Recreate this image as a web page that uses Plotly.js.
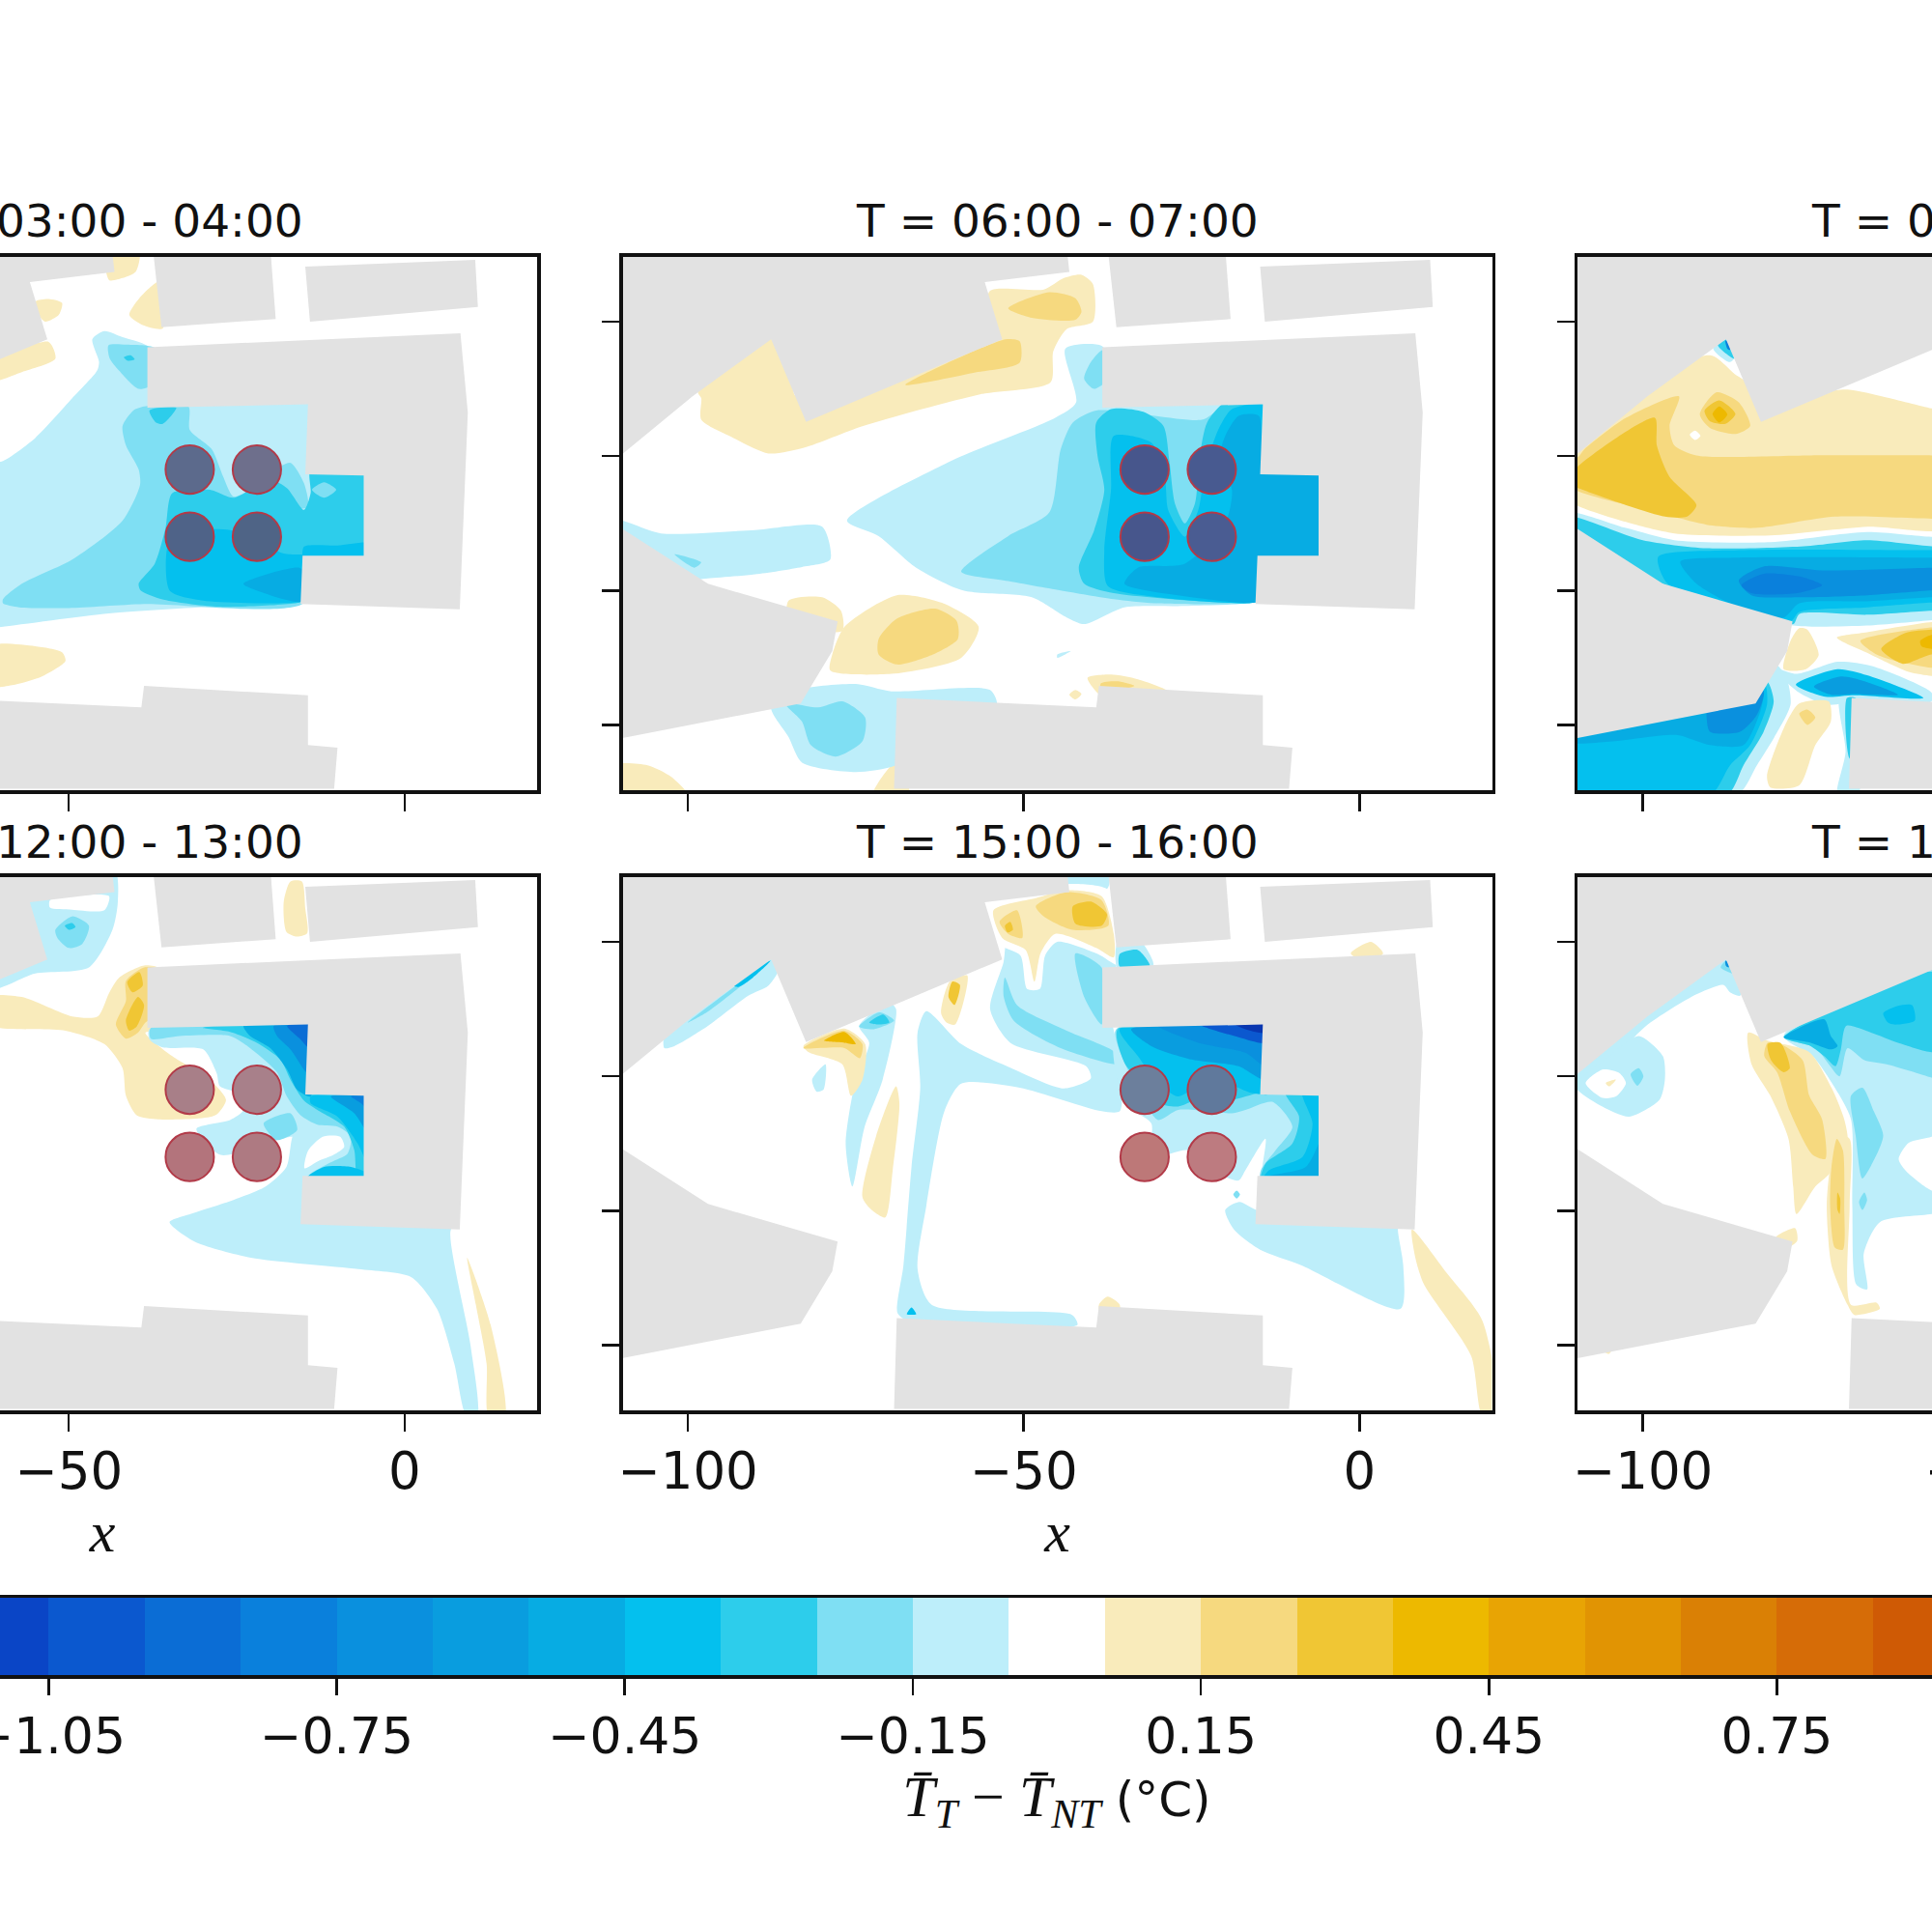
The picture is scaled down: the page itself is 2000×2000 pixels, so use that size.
<!DOCTYPE html>
<html><head><meta charset="utf-8">
<script src="https://cdn.plot.ly/plotly-3.0.1.min.js"></script>
<style>html,body{margin:0;padding:0;width:2000px;height:2000px;overflow:hidden;background:#fff}#g{position:absolute;left:-400px;top:0;width:2950px;height:2000px}</style>
</head><body><div id="g"></div>
<script>
const levelValues=[-1.3,-1.2,-1.1,-1.0,-0.9,-0.8,-0.7,-0.6,-0.5,-0.4,-0.3,-0.2,-0.1,0,0.1,0.2,0.3,0.4,0.5,0.6,0.7,0.8,0.9,1.0,1.1,1.2,1.3];
const levelColors=['#062a96','#0836b0','#0a45c6','#0b58cf','#0b6dd5','#0a80dc','#0a90de','#099ddf','#07ace3','#04c0ee','#2dcdeb','#7fdff3','#bdeefa','#ffffff','#f9ebbb','#f6d97f','#f0c634','#edb900','#e8a404','#e19403','#da8005','#d66c07','#cf5a05','#c44a05','#b83a05','#ad3005','#a02805'];
const cbarTickVals=[-1.05,-0.75,-0.45,-0.15,0.15,0.45,0.75];
const cbarTickText=['\u22121.05','\u22120.75','\u22120.45','\u22120.15','0.15','0.45','0.75'];
const panelTitles=['T = 03:00 - 04:00','T = 06:00 - 07:00','T = 09:00 - 10:00','T = 12:00 - 13:00','T = 15:00 - 16:00','T = 18:00 - 19:00'];
const xTicksByColumn=[[-50,0],[-100,-50,0],[-100,-50]];
const yTicks=[20,0,-20,-40];
const turbineX=[-32,-22,-32,-22];
const turbineY=[-2,-2,-12,-12];
const turbineR=3.6;
const turbineFill03=['#5c6a8c','#6e6f8c','#4f6388','#4f6486'];
const turbineFill06=['#47568c','#485a90','#47568c','#4a5c92'];
const turbineFill12=['#a87f88','#a8808a','#b3747c','#ae7a82'];
const turbineFill15=['#6c7f9c','#60799c','#bd7878','#bd7b80'];
const turbineFills=[turbineFill03,turbineFill06,null,turbineFill12,turbineFill15,null];

const buildings=[
 [-37.5,31,-20,31,-19.2,20.4,-36.2,19.2],
 [-14.8,28.2,10.5,29.2,10.9,22.2,-14.1,20.0],
 [-38.3,16.2,8.3,18.3,9.4,6.5,8.2,-22.8,-15.5,-22,-15.2,-14.8,-6.1,-14.8,-6.1,-2.9,-14.8,-2.7,-14.4,7.7,-38.3,7.2],
 [-68.9,-36,-39.2,-37.4,-38.8,-34.2,-14.4,-35.6,-14.4,-43,-10,-43.4,-10.5,-49.5,-69.3,-49.5],
 [-111,31,-43.6,31,-43.2,27.4,-55.8,25.9,-53.2,17.4,-82.4,5.1,-87.6,17.4,-99.3,8.9,-110,0.1,-111,-0.5],
 [-111,-10,-97,-19,-77.7,-24.6,-78.5,-29,-83.2,-36.8,-111,-42.2]
];

const panel03=[
 [0.1,[-44.5,31,-39.5,31,-40,27.5,-42,26.5,-44,26.2]],
 [0.1,[-55,23,-53,23.4,-51,22.8,-51.5,21,-53.5,20,-54.5,21]],
 [0.1,[-36.5,26,-36,19,-39,19.5,-41,21,-39.5,23.5]],
 [0.1,[-62,13.5,-53,17,-52,14.5,-57,12.5,-62,11]],
 [0.1,[-62,-28.3,-55,-28.3,-51,-29.2,-50.5,-30.5,-54,-32.8,-58,-34,-62,-34.2]],
 [-0.1,[-46.5,17.4,-44.7,18.6,-42,17.7,-38.3,16.4,-36,13,-36,10,-14,10,-12,0,-4,0,-4,-17,-13,-17,-14,-21,-16,-22.1,-28.2,-22.4,-44,-23.4,-60,-25.4,-63,-25.7,-63,-1,-60,-0.8,-55,2.7,-49.5,8.6,-45.8,12.7,-45.5,14]],
 [-0.2,[-44.1,16.5,-41.5,16.6,-37,16,-37,11,-39.6,10,-42.5,12.7,-43.9,14.5]],
 [-0.3,[-41.8,14.7,-40.8,15,-40.2,14.4,-41.2,14.2]],
 [-0.2,[-42,4.5,-40.4,6.8,-38.8,7.4,-32.2,7.4,-32,3.9,-28.7,1,-27,-3.1,-25.5,-6,-23,-5,-20,-2.5,-17,-1,-15,-4,-14.4,-7.6,-16,-8,-18,-12,-15,-21.8,-38.8,-22,-50,-22.6,-57.4,-22.5,-59.8,-21.9,-59.8,-21.3,-57,-19,-49.5,-15.4,-42,-9.6,-39.4,-4.3,-39.6,-2,-41.5,1.6]],
 [-0.3,[-34.6,-5.5,-29,-5,-25.5,-6.2,-20,-3.5,-17.5,-4.8,-15,-8,-14,-5.5,-14,-2,-4,-2,-4,-16,-14,-16,-14,-21,-15.7,-21.8,-28,-22.4,-36.2,-21.3,-39.3,-20,-39.6,-19,-37.2,-16,-35.6,-10.7]],
 [-0.2,[-13.8,-5,-12,-3.9,-10.2,-5,-12,-6.2]],
 [-0.3,[-38,6.8,-34,7.2,-36,4.8,-37,5]],
 [-0.4,[-34.8,-12,-26,-11,-18,-14.5,-14,-15,-14,-21,-15.7,-21.7,-30,-21.5,-35,-20]],
 [-0.5,[-24,-19,-15.7,-16.6,-14.5,-18,-14.5,-21,-15.7,-21.7,-20,-20.7]],
 [-0.4,[-15,-13.5,-10,-13.3,-5,-13,-5,-15.5,-15,-15.5]]
];

const panel06=[
 [0.1,[-98,8.6,-98,5.4,-93.2,2.7,-88,0.4,-82.6,1.3,-73.9,4.5,-56.5,9.2,-46,11,-45.6,15.6,-43.6,18.9,-39.7,20,-39.7,25.6,-41.5,27,-44,26.5,-47,24.8,-55,24.6,-56,20,-70,14,-84,9,-84,15,-88,20,-93,16,-98.5,9.5]],
 [0.2,[-52.3,22,-46.2,24.4,-42.3,23.5,-41.4,21.5,-42.3,20.3,-48.8,20.6]],
 [0.2,[-67.6,10.6,-52.7,17.4,-50.6,17.1,-50.6,13.9,-57.5,12.4]],
 [0.1,[-85,-21.5,-80,-21,-77.2,-23,-77,-26,-85,-25]],
 [0.1,[-76.7,-25.4,-68.9,-20.7,-62,-21.9,-56.7,-25.4,-59.3,-30,-69.7,-32.4,-78.8,-31.9,-78.5,-29.5]],
 [0.2,[-71.6,-27.2,-68.9,-24.2,-63.2,-22.7,-60,-24.5,-59.8,-27.2,-63.5,-29.5,-68.9,-31,-71.6,-29.5]],
 [0.1,[-111,-46,-106,-46,-102.5,-47.7,-100,-50.5,-111,-50.5]],
 [0.1,[-72.5,-50.5,-69,-45.5,-67,-50.5]],
 [0.1,[-40.5,-33,-37,-32.5,-33,-33.2,-28.5,-35,-38,-36]],
 [0.2,[-38.5,-33.8,-36,-33.5,-33.5,-34.2,-38.5,-35]],
 [0.1,[-43.2,-35.5,-42.3,-34.8,-41.4,-35.4,-42.3,-36.2]],
 [-0.1,[-76.3,-9.6,-61,-0.8,-45.3,5.7,-42.2,8,-43.8,16,-38.4,16.4,-36,12,-36,9,-14,9,-13,0,-4,0,-4,-16,-13,-16,-14,-21,-15.7,-21.8,-26,-22.3,-35,-22.5,-41,-25,-43.6,-24,-48.8,-21,-59,-20,-66,-16.6,-71.6,-11.9]],
 [-0.1,[-111,-9.5,-104,-11.5,-90,-11,-80,-10.5,-78.8,-15.4,-83,-16.5,-90,-17.6,-97,-18.2,-101,-18.5,-106,-16,-111,-14]],
 [-0.2,[-102,-14.6,-98,-15.8,-99,-16.6]],
 [-0.1,[-87.6,-37.4,-83.6,-34.8,-75,-33.9,-69.7,-35,-55,-34.8,-54,-37,-60,-40,-69,-46,-75,-47,-83,-45.6,-85,-41.8]],
 [-0.2,[-85.5,-36.8,-80.6,-37.4,-77,-36.5,-73.6,-38.9,-74,-42.4,-78,-44.7,-81.7,-43,-83,-39.5]],
 [-0.1,[-45,-29.5,-43,-29,-45,-30]],
 [-0.2,[-41,11.5,-40,14,-38.2,15.8,-37,12,-39.5,10]],
 [-0.2,[-59.3,-17.2,-52.3,-11.9,-46.2,-8.4,-44.5,1,-42.7,5,-39.2,6.8,-23.5,5.4,-21,6.8,-14.8,8,-13,7,-13,-4,-14,-21,-15.7,-21.8,-30.5,-21.9,-36.6,-21.3,-44.5,-20,-52.3,-18.6]],
 [-0.3,[-39.2,5,-37,7,-32.2,6.6,-29.2,4.5,-28.3,-0.8,-27.5,-7,-26,-10,-24.5,-7,-23.8,0,-22.7,5,-20,8,-13,8,-13,-1,-4,-1,-4,-16,-13,-16,-14,-21,-15.7,-21.8,-36.6,-20.4,-41,-19,-41.8,-16.6,-39.5,-11,-38,-5,-39,0]],
 [-0.4,[-36.6,3,-31,2,-29,-3,-28.5,-8,-26,-12,-24,-8,-23,-2,-21,4,-19,7,-14,7.5,-14,-2,-5,-2,-5,-15.5,-14,-15.5,-14,-21,-15.7,-21.8,-30,-21,-37.5,-19.3,-38,-14,-37,-5]],
 [-0.5,[-20,3,-18,6,-15,6,-14,-2,-5,-2,-5,-15.5,-14,-15.5,-14,-21,-15.7,-21.8,-25,-21,-35,-19,-33,-16.6,-26,-16,-20,-10,-19,-5,-21,-1]]
];

const panel09=[
 [0.1,[-111,0,-111,5,-90,15,-86,12,-80,9,-69.5,9.9,-64,8.8,-57,7.1,-54,6.5,-54,-10.5,-66.5,-10.5,-81,-11.8,-95.3,-11.5,-102.5,-9.8,-110,-7.2,-111,-6]],
 [0.2,[-109.7,-0.2,-108.7,1,-102.5,5.7,-94.6,8.9,-96,4.5,-95.3,1.6,-92,0.1,-75,0.1,-57,0.1,-54,0,-54,-9.3,-57,-9.3,-71.4,-9,-83.3,-10.7,-90.5,-10.2,-97.7,-8.4,-109.7,-5.2,-111,-4,-111,-0.2]],
 [0.3,[-110,-1.9,-98.2,5.7,-97.9,1.6,-96,-3.1,-92,-7.3,-93.4,-9,-96.7,-9,-109.2,-4.9,-111,-4]],
 [0.2,[-91.5,6.2,-89,9.5,-85.7,8,-84,4.5,-86.2,3.3,-90,4.2]],
 [0.3,[-90.8,6.8,-88.6,8.3,-86.2,6.3,-87.7,4.8,-90,5.2]],
 [0.4,[-89.6,6.3,-88.6,7.4,-87.4,6.2,-88.6,5]],
 [0,[-93,3.2,-92.2,3.8,-91.4,3,-92.2,2.4]],
 [-0.1,[-89.5,16,-87.7,18,-85.5,16,-87,14]],
 [-0.3,[-88.8,16.5,-87,17.5,-86.3,14.5]],
 [-0.8,[-87.7,17.2,-87.2,17,-87,15.8,-87.4,16]],
 [-0.1,[-111,-8.4,-102.5,-10.7,-95.3,-12.5,-81,-12.8,-66.6,-11.3,-57,-12,-54,-11.8,-54,-24.2,-57,-24.4,-66.6,-25.2,-77.6,-25.2,-85,-23,-110,-12]],
 [-0.3,[-111,-9,-100,-12.5,-90.5,-13.7,-76,-13.4,-66.6,-12.5,-57,-13.4,-54,-13.4,-54,-23,-57,-23,-66.6,-23.6,-76.7,-23.5,-77.6,-25,-90,-22,-110,-12]],
 [-0.4,[-97.7,-15,-85.7,-14,-57,-14,-54,-14,-54,-21.8,-57,-21.8,-66.6,-22.5,-76.7,-23.2,-78,-24.6,-85.7,-22.7,-96.3,-19]],
 [-0.5,[-94.4,-15.7,-85.7,-15.1,-57,-15.1,-54,-15.1,-54,-21,-57,-21,-66.6,-21.6,-76.7,-21.9,-79,-24,-85.7,-22.5,-92,-19]],
 [-0.7,[-85.7,-18.5,-81.9,-16.4,-73.3,-17,-57,-16.6,-54,-16.6,-54,-20,-57,-20,-66.6,-20.7,-76.2,-21,-83.8,-20.7]],
 [-0.8,[-85.3,-19.2,-82,-17.5,-76.2,-18,-73.3,-19.2,-77,-20.4,-83.8,-20.4]],
 [0.1,[-76.7,-25.6,-75.5,-25.8,-73.8,-29.6,-75.7,-31.7,-79,-31.7,-78,-27.5]],
 [0.1,[-71.1,-27,-66.6,-26.2,-57,-24.7,-54,-24.7,-54,-32.7,-57,-32.7,-60.4,-32.1,-66.1,-29.5]],
 [0.2,[-67.6,-27.5,-57,-25.5,-54,-25.5,-54,-31.5,-57,-31.5,-61.8,-30.6,-65.2,-29.5]],
 [0.3,[-64.5,-28.7,-60.9,-26.3,-57,-25.8,-54,-25.8,-54,-29.5,-57,-29.5,-58.5,-30,-61.3,-30.9]],
 [0.4,[-58.7,-27.5,-57,-26.6,-54,-26.6,-54,-28.7,-57,-28.7,-58.5,-28.3]],
 [-0.1,[-80.5,-31.5,-77,-32.4,-71,-30.6,-66,-31.2,-57,-35.2,-57,-36.5,-68,-36.5,-72.5,-37,-77,-35]],
 [-0.4,[-77.2,-34,-71,-31.7,-66.6,-32.6,-58.2,-36,-68.5,-35.6,-72.8,-35.8]],
 [-0.6,[-74.5,-34.3,-70.5,-32.8,-67,-33.5,-62,-35.5,-68.5,-35.4,-72,-35.5]],
 [-0.1,[-111,-38,-84,-33,-80.2,-31,-78.5,-33.3,-78,-37,-80.5,-42,-83,-46,-86,-50.5,-111,-50.5]],
 [-0.3,[-111,-40,-84,-34,-81.5,-33.5,-80.5,-36.5,-82,-41,-85,-46,-87.5,-50.5,-111,-50.5]],
 [-0.4,[-111,-40,-84,-34,-81.8,-34,-81.5,-37,-84,-43,-87,-46,-90,-50.5,-111,-50.5]],
 [-0.5,[-111,-39,-84,-33.5,-82,-34.5,-82.5,-38,-85,-43,-90,-43,-95,-41.5,-105,-42.5,-111,-42.5]],
 [-0.7,[-90,-36,-84,-34,-82,-35,-83,-38.5,-85.5,-41,-90,-41,-90.5,-38]],
 [0.1,[-78.6,-39.6,-76.7,-36.8,-72.3,-36.5,-72,-39.5,-74.3,-43,-76.7,-49,-81,-49.3,-81.5,-47.6]],
 [0.2,[-76.7,-38.3,-75.5,-37.7,-74.3,-38.9,-75.5,-40]],
 [-0.1,[-70.7,-36,-68,-36,-68,-50.5,-71,-50.5,-69.8,-44]],
 [-0.3,[-69.6,-36,-68.3,-36,-68.3,-45,-69.2,-45]]
];

const panel12=[
 [-0.1,[-62,13,-55,15.3,-47,16.2,-43.5,21.8,-42.7,26,-43.3,31,-62,31]],
 [0,[-52.8,26.2,-44,26.8,-44.7,24.7,-49.5,24.8,-52.8,25.1]],
 [-0.2,[-52,21.8,-49.5,23.8,-47,22.4,-48,19.7,-50,19.1,-51.7,20.6]],
 [-0.3,[-50.6,22.4,-49.5,22.8,-49,22.2,-50,21.8]],
 [0.1,[-62,11.8,-57,11.8,-49.5,8.9,-45.7,8.9,-44,12.4,-42.5,14.7,-38.8,16.5,-36.5,16,-36.5,7,-38.6,6.5,-34.6,3,-29,-0.5,-26.6,-3.5,-28.2,-5.8,-36.7,-6.4,-39.9,-5.8,-41.5,-2.9,-42,1.2,-44.7,4.8,-50.5,6.8,-62,7.7]],
 [0.2,[-43,7.7,-41.5,11.2,-41.5,14.2,-38.8,16.2,-37,16,-37,9,-38.6,8,-39.7,6.5,-41.5,5.6]],
 [0.3,[-41.5,8.3,-39.7,11.8,-38.8,10.6,-39.9,7.4,-41,6.8]],
 [0.3,[-41.3,14,-39.5,15.5,-39,13.5,-40.5,12.5]],
 [-0.1,[-38,7,-14,7.5,-14,-3,-5,-3,-5,-16,-13,-16,-14.9,-13.5,-15,-10,-16.7,-9,-19,-9.5,-27.4,-11.7,-31,-7.8,-26,-6.5,-24,-5,-25,-2.5,-27.5,-1.5,-28,0.5,-30,4,-36,4.3,-38,5.5]],
 [-0.1,[-35,-21.7,-31.9,-20.5,-25.5,-18.4,-20.7,-16.4,-17.6,-13.5,-16.5,-8.5,-14.5,-7.5,-13,-12,-14,-20,8,-20,6.8,-23.2,9.8,-40,10.8,-50.5,9.2,-50.5,7.4,-42.8,4.8,-34.6,1,-29.9,-6.9,-28.7,-22.9,-27,-31.3,-24.6]],
 [0,[-14.9,-13.7,-14.4,-11.1,-12.2,-9,-9.6,-9,-9,-10.5,-10.6,-11.7,-12.8,-12.6]],
 [-0.2,[-37.8,7.2,-13,7.8,-13,-2,-5,-2,-5,-16,-15,-16,-14,-14.5,-11,-12.8,-8.5,-11.5,-8,-9,-10,-7.5,-13,-7.2,-15.5,-5.8,-17.6,-2.9,-19,0.6,-23.4,4.5,-26,6,-33.5,6,-37.8,5.6]],
 [-0.2,[-21,-7,-17,-5.5,-16,-8,-19,-9.5]],
 [-0.3,[-30,7.2,-13,7.8,-13,-2,-5,-2,-5,-15.5,-7,-15,-7.5,-11,-9,-7.5,-13,-5,-15,-3.6,-17,-0.5,-18.5,2.5,-22,5,-26,6.6]],
 [-0.4,[-14.5,-15,-12,-13.5,-8,-13.5,-5.5,-14.5,-5.5,-15.5,-14.5,-15.5]],
 [-0.5,[-24,7.5,-14,7.8,-14,-3,-16,-2,-17.5,1,-20,4.2,-23,6]],
 [-0.7,[-19.5,7.5,-14,7.8,-14,0,-15,1,-17,4,-19,6]],
 [-0.9,[-17.5,7.5,-14,7.8,-14,4,-15.5,5.5]],
 [-0.4,[-14,-3,-5,-3,-5,-14,-7,-10,-10,-6,-14,-4]],
 [-0.6,[-11,-3,-5,-3,-5,-9,-7.5,-5.5]],
 [-0.8,[-8,-3,-5,-3,-5,-5.5,-6.5,-4]],
 [0.1,[-18,26,-17,29,-15.3,29,-14.8,25,-14.5,21.3,-16,20.8,-17.6,21.5]],
 [0.1,[9.3,-27,12.8,-37,14.9,-50.5,12.5,-50.5,12.2,-42.8,10.6,-34]]
];

const panel15=[
 [-0.1,[-103.5,4.2,-103.5,6,-96,14,-88,19,-86,17,-88,13.5,-91,12,-97,7.5,-102,4.5]],
 [-0.2,[-100,8,-87.7,17.2,-92,13.5,-97.2,9.5]],
 [-0.4,[-94,13.9,-87.7,17.2,-90.3,14.7,-92.5,13.3]],
 [-0.1,[-74.5,7.5,-70,11,-69,10,-71,-0.5,-73.7,-7.6,-75.5,-16.4,-76.5,-10,-75,-0.5,-73,5]],
 [-0.2,[-74.5,7.4,-71.5,9.5,-69.3,8.3,-72.4,7]],
 [-0.3,[-73,8,-70.9,9.2,-70,8,-71.7,7.7]],
 [-0.1,[-81.5,-0.5,-79.5,1.8,-79.8,-2,-80.8,-2.3]],
 [-0.1,[-44,31,-37.5,31,-37.5,28,-43.5,28]],
 [-0.1,[-53,17,-52,22,-40,24,-36.5,22,-36.2,16.8,-36.8,8,-35.7,3,-35.7,-5.2,-38.4,-5.2,-50.6,-1.7,-59.3,-1.1,-61.8,-5.2,-64.5,-19.3,-65.8,-28.7,-63.7,-34,-42.8,-35.5,-42,-37,-67.6,-36.2,-68.8,-35.2,-67.9,-28.1,-66.7,-13.5,-65.4,-1.7,-65.8,6.5,-64.5,9.7,-59.3,4.8,-52,1.3,-44,-1.8,-40,-0.3,-40.7,1.5,-52,5,-55,10]],
 [-0.2,[-42.3,18.3,-38.4,16.2,-38.4,7.7,-41,11.8]],
 [-0.2,[-52.8,14.7,-51,10.6,-43.6,6.8,-36.4,3.6,-35.7,1.8,-44.5,4.2,-51.5,8.3,-53,12]],
 [0,[-55.5,25.5,-48,27.2,-43.6,28.6,-37.5,27.8,-35.8,22,-35.8,16.5,-39,18.2,-45,20,-46.8,18,-47.6,13,-49.5,13,-50.5,18,-54,19.8]],
 [0.1,[-54.5,24.7,-48.2,26.5,-43.6,27.7,-38.4,26.8,-36.6,21.2,-36.6,17.7,-39.2,19.1,-45.3,21.2,-47.5,18.3,-48.4,14.1,-49.7,18.8,-53.2,20.6]],
 [0.2,[-53.6,23,-51,24.7,-50.2,20.6,-52.3,21.2]],
 [0.2,[-48.2,25.3,-43.6,27.4,-38.4,26.2,-37.4,22.4,-42.7,21.8,-47,23.8]],
 [0.3,[-42.7,25.3,-40,26,-37.6,24.1,-38.4,22.4,-42.3,22.7]],
 [0.3,[-52.8,22.4,-52,23,-51.6,21.8,-52.4,21.4]],
 [-0.1,[-36,20,-33,20.5,-30.7,16.5,-36,16]],
 [-0.3,[-35.7,18.2,-33,18.8,-31.2,16.4,-35.7,16.3]],
 [0.1,[-82.8,4.5,-76.7,7.1,-73.6,4.8,-74,-0.5,-75.7,-2.9,-77,1.8,-82,3.6]],
 [0.2,[-82.8,4.2,-76.7,6.8,-74,4.8,-74.4,2.7,-76.7,4.2]],
 [0.4,[-79.7,5.3,-76.7,6.6,-75,4.8,-76.7,5]],
 [0.1,[-62.3,9.4,-61,14.1,-58.4,15,-60.2,7.7,-61.5,8]],
 [0.3,[-61.2,11.8,-60.6,14.1,-59.5,13.6,-60.3,10.6]],
 [0.1,[-74,-18,-72,-9,-69,-1.5,-68.5,-4,-69.5,-14,-70.6,-21,-72.5,-20]],
 [0.1,[-1.3,18.3,1.7,20,3.5,18.3,1,17]],
 [0.1,[-38.8,-34,-37.5,-32.8,-35.7,-34,-36,-36,-38.5,-36]],
 [0.1,[7.8,-22.8,13,-29.3,18.3,-36.4,20.5,-50.5,18.3,-50.5,16.6,-41.6,9.6,-31,8.3,-27]],
 [-0.1,[-36.2,7,-13,8,-13,-2,-5,-2,-5,-16,-14.7,-16,-14.7,-15,-14,-9.3,-17,-14,-18,-15.5,-22,-14,-25.5,-11,-31,-12,-31,-7,-35,-4]],
 [-0.2,[-36.2,7,-13,8,-13,-2,-5,-2,-5,-16,-14.7,-16,-14.7,-14,-12.5,-11,-10,-7.5,-13,-3.8,-17,-5,-19,-5.5,-27,-5,-30,-6.5,-33,-2]],
 [-0.3,[-36,7,-13,8,-13,-2.5,-15,-2.5,-19,-3.5,-23,-3,-27,-4.5,-30,-4,-33,-0.5,-35,2]],
 [-0.4,[-35.7,7,-13,8,-13,-2.5,-16,-2.5,-20,-1,-24,-1.5,-27,-3,-30,-1,-33,3]],
 [-0.6,[-34,7,-13,8,-14,-0.5,-18,1.5,-25,2.5,-31,4.5]],
 [-0.7,[-30,7.5,-14,8,-14,1.5,-17,3.5,-24,5]],
 [-1.0,[-24,7.8,-14,8,-14,5,-18,5.8]],
 [-1.2,[-19,8,-14,8,-14,6.5,-17,7]],
 [-0.3,[-11,-2.5,-5,-2.5,-5,-16,-14.7,-16,-14,-13,-10,-10,-9,-6]],
 [-0.4,[-8.5,-2.5,-5,-2.5,-5,-16,-14.7,-16,-13.5,-14,-8.5,-12,-7,-7]],
 [-0.5,[-5,-8,-5,-16,-14.7,-16,-14,-15,-8,-13.5]],
 [-0.1,[-20,-19.9,-17.9,-18.7,-15,-20,6,-20,5.7,-22.8,6.5,-28.1,6.1,-34.6,-8.7,-28.1,-14.8,-25.8,-18.7,-22.8]],
 [-0.2,[-18.8,-17.6,-18.3,-17,-17.8,-17.6,-18.3,-18.2]],
 [-0.4,[-67.4,-35.4,-66.7,-34.4,-66,-35.4]]
];

const panel18=[
 [-0.1,[-111,-1,-100,8.5,-92,15,-88,18,-85,17,-85.5,12,-87,12.5,-88,13.6,-92,12.2,-99.5,7.5,-105,2,-110,-1.5]],
 [-0.1,[-110,-1.5,-105,3,-100.6,6,-97,3,-96.7,-0.5,-97.5,-3.5,-102,-6,-106,-4.5]],
 [0,[-108.5,-1,-106,1,-103.5,0.5,-102.5,-1,-104,-3,-106,-3.2]],
 [0.1,[-105.5,-1,-104,-0.5,-105,-1.5]],
 [-0.2,[-101.8,0.3,-100.6,1.2,-99.9,0,-100.8,-1.4]],
 [-0.2,[-88.4,16.2,-87.4,17.3,-86.5,15.3]],
 [-0.7,[-87.7,17.2,-87.2,17,-87.2,16.2,-87.6,16.4]],
 [-0.1,[-79,6,-74.7,3,-71.4,-1.7,-69,-6.4,-68.8,-19.3,-68.2,-31,-66.6,-31.7,-67.1,-26.4,-64.7,-21.7,-57,-20.5,-55,-20,-55,-17,-57,-17,-60.9,-14,-61.9,-12.3,-60.4,-9.9,-57,-9,-55,-8,-55,20,-60,18]],
 [-0.2,[-78.8,5.8,-57,17,-55,17,-55,-1,-57,-0.2,-63.7,1.8,-67,2.4,-69.5,4.2,-70.7,0,-72.3,1.8,-74.2,4.2]],
 [-0.2,[-69,-2.9,-67.3,-1.7,-65.6,-5.2,-64.2,-8.8,-65.2,-11.7,-67.3,-15.2,-68.3,-8.8]],
 [-0.2,[-67.8,-18.7,-67,-17.3,-66.6,-18.4,-67.3,-19.9]],
 [-0.3,[-79,5.8,-58,15.5,-55,15,-55,4,-57,3.6,-62,5,-66,6.5,-69.7,7.5,-70.5,4,-71.3,1.5,-73,3,-75,4.5]],
 [-0.4,[-64.2,9.4,-62,10.5,-59.9,10.6,-59.5,8.3,-62.5,7.7,-63.5,8]],
 [-0.5,[-79,5.8,-73,8.5,-72,6,-71,4.5,-72,4,-75,5]],
 [0.1,[-84.3,6.5,-81.4,5.3,-75.2,3.6,-71.9,-1.7,-70,-6.4,-69.5,-9.9,-72.3,-14.6,-74.3,-16.4,-77.1,-20.5,-77.6,-16.4,-78.3,-9.3,-81,-2.9,-83.8,1.8]],
 [0.2,[-81.4,5,-79.3,4.7,-76.2,2.4,-75.2,-2.9,-73.3,-6.4,-72.8,-12.3,-74.7,-11.7,-78.1,-5.2,-80,0.6,-81.9,3]],
 [0.3,[-81.4,4.8,-79.5,5,-78.1,1.2,-79,0.6,-80.9,2.4]],
 [0.1,[-70.9,-8.8,-69.2,-9.3,-69.2,-19.3,-69,-34,-65.2,-33.7,-64.7,-34.6,-68.5,-35.5,-69.5,-34,-71.9,-28.1,-72.6,-19.3,-72.1,-13.5]],
 [0.2,[-71.1,-9.3,-70.2,-11,-70,-19.3,-70.2,-25.8,-71.4,-25.5,-72.1,-19.3,-71.9,-13.5]],
 [0.3,[-71,-17.3,-70.6,-18.2,-70.7,-20.5,-71,-19.9]],
 [0.1,[-80.2,-24,-77.3,-22.6,-77,-24.5,-78.5,-25.5]],
 [0.1,[-106.5,-40.5,-104.5,-40.3,-105,-41.3]]
];
const panels=[panel03,panel06,panel09,panel12,panel15,panel18];

const W=2950,OFF=400,inset=2;
const colL=[-346,642.5,1631],panelW=904,rowT=[263.5,905.5],panelH=556.5;
const dx=p=>(p+OFF)/W, dy=p=>1-p/2000;
const colorOf=l=>levelColors[levelValues.findIndex(v=>Math.abs(v-l)<1e-6)];
const xs=a=>a.filter((_,i)=>i%2===0), ys=a=>a.filter((_,i)=>i%2===1);
const traces=[],shapes=[],annotations=[],layout={};
const font={family:'"DejaVu Sans",sans-serif',color:'#111'};
const xRange=[-110+inset*130/panelW,20-inset*130/panelW],yRange=[-50+inset*80/panelH,30-inset*80/panelH];
panels.forEach((items,i)=>{
  const n=i+1,col=i%3,row=i<3?0:1,xa='x'+n,ya='y'+n;
  items.forEach(([lev,pts])=>traces.push({type:'scatter',mode:'lines',x:xs(pts).concat(pts[0]),y:ys(pts).concat(pts[1]),xaxis:xa,yaxis:ya,fill:'toself',fillcolor:colorOf(lev),line:{width:0,shape:'spline',smoothing:0.7},hoverinfo:'skip',showlegend:false}));
  buildings.forEach(b=>traces.push({type:'scatter',mode:'lines',x:xs(b).concat(b[0]),y:ys(b).concat(b[1]),xaxis:xa,yaxis:ya,fill:'toself',fillcolor:'#e2e2e2',line:{width:0},hoverinfo:'skip',showlegend:false}));
  const tv=xTicksByColumn[col];
  const ax={domain:[dx(colL[col]+inset),dx(colL[col]+panelW-inset)],anchor:ya,range:xRange,tickmode:'array',tickvals:tv,ticktext:tv.map(v=>v<0?'\u2212'+(-v):''+v),showticklabels:row===1,ticks:'outside',ticklen:18,tickwidth:2.5,tickcolor:'#111',showline:true,mirror:true,linecolor:'#111',linewidth:3.5,showgrid:false,zeroline:false,tickfont:{...font,size:53},ticklabelstandoff:-4};
  if(row===1&&col<2) ax.title={text:'<i>x</i>',font:{family:'"Liberation Serif",serif',size:60,color:'#111'},standoff:12};
  layout['xaxis'+n]=ax;
  layout['yaxis'+n]={domain:[dy(rowT[row]+panelH-inset),dy(rowT[row]+inset)],anchor:xa,range:yRange,tickmode:'array',tickvals:yTicks,showticklabels:false,ticks:'outside',ticklen:18,tickwidth:2.5,tickcolor:'#111',showline:true,mirror:true,linecolor:'#111',linewidth:3.5,showgrid:false,zeroline:false};
  annotations.push({xref:'paper',yref:'paper',x:dx(colL[col]+panelW/2),y:dy(rowT[row]-5),xanchor:'center',yanchor:'bottom',showarrow:false,text:panelTitles[i],font:{...font,size:47}});
  if(turbineFills[i]) turbineX.forEach((tx,k)=>shapes.push({type:'circle',xref:xa,yref:ya,x0:tx-turbineR,x1:tx+turbineR,y0:turbineY[k]-turbineR,y1:turbineY[k]+turbineR,fillcolor:turbineFills[i][k],line:{color:'#b23a48',width:2},layer:'above'}));
});
traces.push({type:'bar',x:levelValues,y:levelValues.map(()=>1),width:0.1,marker:{color:levelColors,line:{width:0}},xaxis:'x7',yaxis:'y7',hoverinfo:'skip',showlegend:false});
const cbL=dx(1094-994*1.35),cbR=dx(1094+994*1.35);
layout.xaxis7={domain:[cbL,cbR],anchor:'y7',range:[-1.35,1.35],tickmode:'array',tickvals:cbarTickVals,ticktext:cbarTickText,ticks:'outside',ticklen:17,tickwidth:2.5,tickcolor:'#111',showline:true,mirror:true,linecolor:'#111',linewidth:3.5,showgrid:false,zeroline:false,tickfont:{...font,size:52},ticklabelstandoff:-2,
  title:{text:'<i>T\u0304<sub>T</sub></i> \u2212 <i>T\u0304<sub>NT</sub></i> <span style="font-family:\'DejaVu Sans\';font-size:50px">(\u00b0C)</span>',font:{family:'"Liberation Serif",serif',size:60,color:'#111'},standoff:8}};
layout.yaxis7={domain:[dy(1734),dy(1654)],anchor:'x7',range:[0,1],showticklabels:false,ticks:'',showline:true,mirror:true,linecolor:'#111',linewidth:3.5,showgrid:false,zeroline:false};
Object.assign(layout,{width:W,height:2000,margin:{l:0,r:0,t:0,b:0},paper_bgcolor:'#fff',plot_bgcolor:'#fff',barmode:'overlay',bargap:0,showlegend:false,shapes,annotations,font});
Plotly.newPlot('g',traces,layout,{displayModeBar:false,staticPlot:true});
</script></body></html>
